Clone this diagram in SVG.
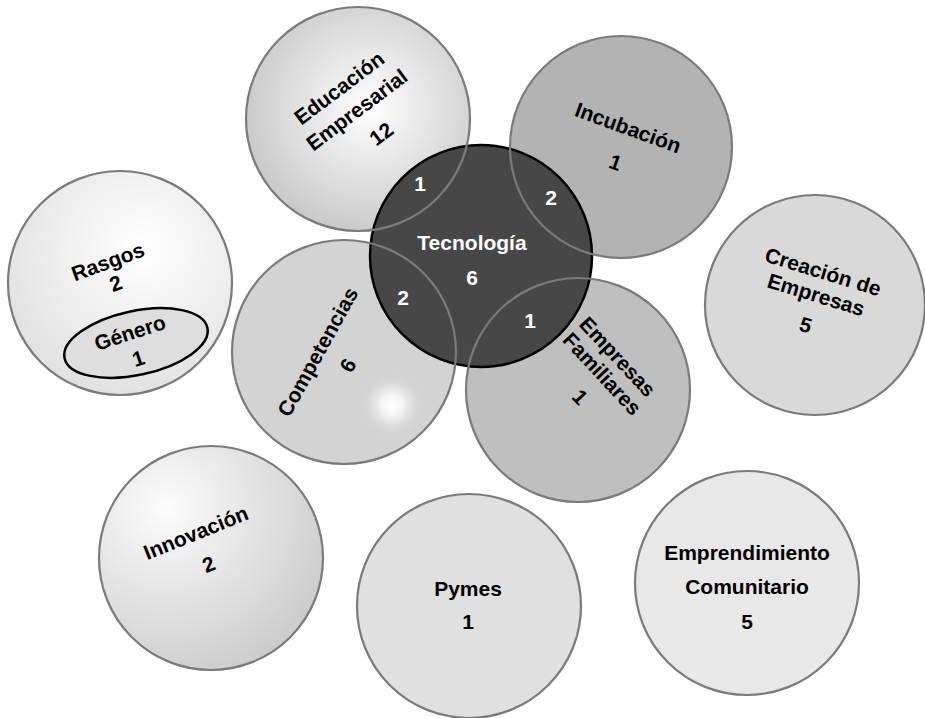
<svg xmlns="http://www.w3.org/2000/svg" xmlns:xlink="http://www.w3.org/1999/xlink" width="925" height="718" viewBox="0 0 925 718">
<style>
  text { font-family: "Liberation Sans", Arial, Helvetica, sans-serif; font-weight: bold; font-size: 21px; text-anchor: middle; fill: #000; }
  .w { fill: #ffffff; }
  .outline { fill: none; stroke: #7b7b7b; stroke-width: 2.2; }
  .core { fill: #474747; stroke: #000; stroke-width: 2.5; }
</style>
<defs>
  <radialGradient id="gEdu" cx="0.55" cy="0.45" r="0.6">
    <stop offset="0" stop-color="#ffffff"/>
    <stop offset="1" stop-color="#c6c6c6"/>
  </radialGradient>
  <radialGradient id="gRas" cx="0.6" cy="0.35" r="0.65">
    <stop offset="0" stop-color="#ffffff"/>
    <stop offset="1" stop-color="#e2e2e2"/>
  </radialGradient>
  <radialGradient id="gInn" cx="0.3" cy="0.28" r="0.85">
    <stop offset="0" stop-color="#fcfcfc"/>
    <stop offset="1" stop-color="#c8c8c8"/>
  </radialGradient>
  <radialGradient id="gHi" cx="0.5" cy="0.5" r="0.5">
    <stop offset="0" stop-color="#ffffff"/>
    <stop offset="0.35" stop-color="#f4f4f4"/>
    <stop offset="1" stop-color="#d3d3d3" stop-opacity="0"/>
  </radialGradient>
  <circle id="c-edu" cx="358" cy="119" r="112"/>
  <circle id="c-inc" cx="621" cy="147" r="111"/>
  <circle id="c-ras" cx="120" cy="283" r="112"/>
  <circle id="c-com" cx="344" cy="352" r="112"/>
  <circle id="c-emf" cx="578" cy="390" r="112"/>
  <circle id="c-cre" cx="815" cy="305" r="110"/>
  <circle id="c-inn" cx="211" cy="558" r="112"/>
  <circle id="c-pym" cx="469" cy="606" r="112"/>
  <circle id="c-emc" cx="747" cy="583" r="112"/>
</defs>

<g id="node-educacion">
  <use xlink:href="#c-edu" fill="url(#gEdu)"/>
  <g transform="translate(357,110) rotate(-37)">
    <text x="-1" y="-21">Educación</text>
    <text x="0" y="7">Empresarial</text>
    <text x="5" y="41">12</text>
  </g>
</g>

<g id="node-incubacion">
  <use xlink:href="#c-inc" fill="#b3b3b3"/>
  <g transform="translate(628,128) rotate(20)">
    <text x="0" y="7">Incubación</text>
    <text x="0" y="44">1</text>
  </g>
</g>

<g id="node-rasgos">
  <use xlink:href="#c-ras" fill="url(#gRas)"/>
  <g transform="translate(108,262) rotate(-20)">
    <text x="0" y="7">Rasgos</text>
    <text x="0" y="30">2</text>
  </g>
</g>

<g id="node-genero">
  <ellipse cx="136" cy="343" rx="73" ry="32" transform="rotate(-12 136 343)" fill="#dedede" stroke="#000" stroke-width="2.5"/>
  <g transform="translate(130,333) rotate(-18)">
    <text x="0" y="7">Género</text>
    <text x="0" y="34">1</text>
  </g>
</g>

<g id="node-competencias">
  <use xlink:href="#c-com" fill="#d3d3d3"/>
  <circle cx="392" cy="405" r="32" fill="url(#gHi)"/>
  <g transform="translate(318,352) rotate(-61)">
    <text x="0" y="7">Competencias</text>
    <text x="3" y="40">6</text>
  </g>
</g>

<g id="node-empresas-familiares">
  <use xlink:href="#c-emf" fill="#bfbfbf"/>
  <g transform="translate(602,374) rotate(47)">
    <text x="-2" y="-16">Empresas</text>
    <text x="0" y="7">Familiares</text>
    <text x="2" y="39">1</text>
  </g>
</g>

<g id="node-creacion">
  <use xlink:href="#c-cre" fill="#d9d9d9"/>
  <g transform="translate(816,295) rotate(17)">
    <text x="0" y="-17">Creación de</text>
    <text x="0" y="7">Empresas</text>
    <text x="-1" y="39">5</text>
  </g>
</g>

<g id="node-innovacion">
  <use xlink:href="#c-inn" fill="url(#gInn)"/>
  <g transform="translate(196,533) rotate(-22)">
    <text x="0" y="7">Innovación</text>
    <text x="0" y="41">2</text>
  </g>
</g>

<g id="node-pymes">
  <use xlink:href="#c-pym" fill="#e0e0e0"/>
  <text x="468" y="596">Pymes</text>
  <text x="468" y="629">1</text>
</g>

<g id="node-emprendimiento">
  <use xlink:href="#c-emc" fill="#e8e8e8"/>
  <text x="747" y="560">Emprendimiento</text>
  <text x="747" y="594">Comunitario</text>
  <text x="747" y="629">5</text>
</g>

<g id="node-tecnologia">
  <circle class="core" cx="481" cy="256" r="111"/>
</g>

<g id="connectors">
  <use xlink:href="#c-edu" class="outline"/>
  <use xlink:href="#c-inc" class="outline"/>
  <use xlink:href="#c-ras" class="outline"/>
  <use xlink:href="#c-com" class="outline"/>
  <use xlink:href="#c-emf" class="outline"/>
  <use xlink:href="#c-cre" class="outline"/>
  <use xlink:href="#c-inn" class="outline"/>
  <use xlink:href="#c-pym" class="outline"/>
  <use xlink:href="#c-emc" class="outline"/>
</g>

<g id="node-tecnologia-labels">
  <text class="w" x="472" y="250">Tecnología</text>
  <text class="w" x="472" y="285">6</text>
  <text class="w" x="420" y="191">1</text>
  <text class="w" x="551" y="205">2</text>
  <text class="w" x="403" y="305">2</text>
  <text class="w" x="530" y="328">1</text>
</g>
</svg>
